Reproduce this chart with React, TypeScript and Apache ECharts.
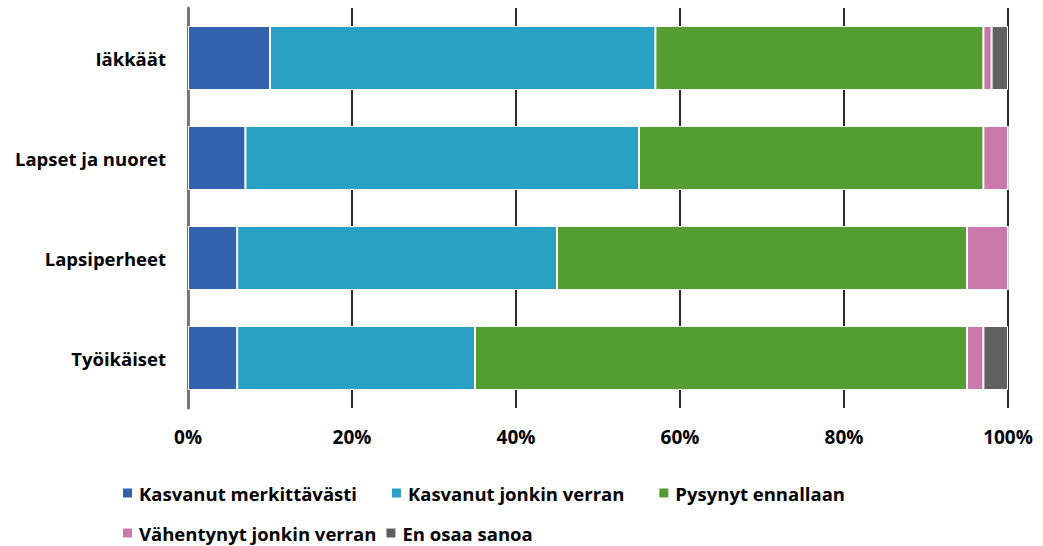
import React, { useEffect, useRef } from "react";
import * as echarts from "echarts";

const categories = ["Työikäiset", "Lapsiperheet", "Lapset ja nuoret", "Iäkkäät"];
const seriesNames = [
  "Kasvanut merkittävästi",
  "Kasvanut jonkin verran",
  "Pysynyt ennallaan",
  "Vähentynyt jonkin verran",
  "En osaa sanoa",
];
const kasvanutMerkittavasti = [6, 6, 7, 10];
const kasvanutJonkinVerran = [29, 39, 48, 47];
const pysynytEnnallaan = [60, 50, 42, 40];
const vahentynytJonkinVerran = [2, 5, 3, 1];
const enOsaaSanoa = [3, 0, 0, 2];
const xTicks = [0, 20, 40, 60, 80, 100];

const colors = ["#3162ac", "#2aa1c4", "#539d31", "#cb77a9", "#606060"];
const FONT = "'Open Sans', sans-serif";

export default function App() {
  const ref = useRef<HTMLDivElement>(null);
  useEffect(() => {
    if (!ref.current) return;
    const chart = echarts.init(ref.current, undefined, { renderer: "svg" });
    const values = [
      kasvanutMerkittavasti,
      kasvanutJonkinVerran,
      pysynytEnnallaan,
      vahentynytJonkinVerran,
      enOsaaSanoa,
    ];
    const legendText = {
      fontFamily: FONT,
      fontWeight: "bold" as const,
      fontSize: 18.5,
      lineHeight: 19,
      color: "#000",
      padding: [0, 0, 0, 1],
    };
    chart.setOption({
      animation: false,
      color: colors,
      grid: { left: 188, right: 35, top: 8, bottom: 138 },
      xAxis: {
        type: "value",
        min: xTicks[0],
        max: xTicks[xTicks.length - 1],
        interval: 20,
        axisLine: { show: false },
        axisTick: { show: false },
        splitLine: { show: true, lineStyle: { color: "#2a2a2a", width: 2 } },
        axisLabel: {
          formatter: "{value}%",
          fontFamily: FONT,
          fontWeight: "bold",
          fontSize: 19,
          color: "#000",
          margin: 19,
        },
      },
      yAxis: {
        type: "category",
        data: categories,
        axisLine: { show: true, lineStyle: { color: "#777", width: 3 } },
        axisTick: { show: false },
        axisLabel: {
          fontFamily: FONT,
          fontWeight: "bold",
          fontSize: 18.5,
          color: "#000",
          margin: 22,
        },
      },
      legend: [
        {
          data: seriesNames.slice(0, 3),
          left: 121,
          top: 483.5,
          itemWidth: 11,
          itemHeight: 11,
          itemGap: 33,
          icon: "rect",
          textStyle: legendText,
          selectedMode: false,
          padding: 0,
        },
        {
          data: seriesNames.slice(3),
          left: 121,
          top: 523.5,
          itemWidth: 11,
          itemHeight: 11,
          itemGap: 8,
          icon: "rect",
          textStyle: legendText,
          selectedMode: false,
          padding: 0,
        },
      ],
      series: seriesNames.map((name, i) => ({
        name,
        type: "bar",
        stack: "total",
        barWidth: 64,
        data: values[i],
        itemStyle: { borderColor: "#fff", borderWidth: 1 },
      })),
    });
    return () => chart.dispose();
  }, []);
  return <div ref={ref} style={{ width: 1043, height: 546, position: "absolute", left: 0, top: 0 }} />;
}
